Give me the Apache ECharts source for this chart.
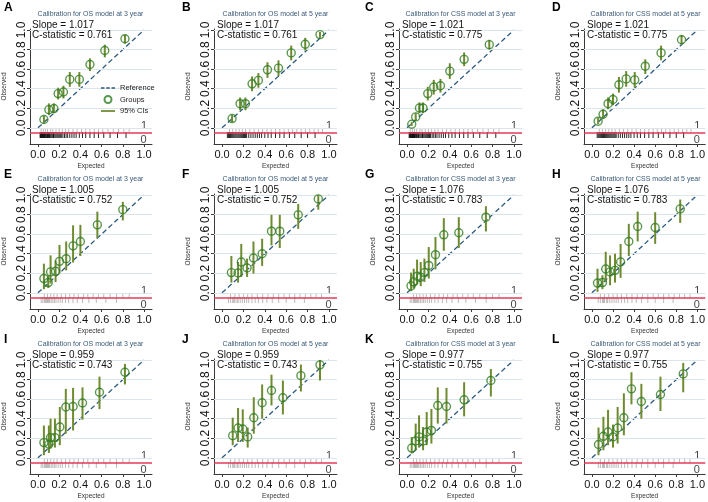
<!doctype html>
<html>
<head>
<meta charset="utf-8">
<title>Calibration plots</title>
<script src="https://cdn.jsdelivr.net/npm/echarts@6.0.0/dist/echarts.min.js"></script>
<style>
  html, body { margin: 0; padding: 0; background: #fff; }
  #main { width: 708px; height: 502px; }
</style>
</head>
<body>
<div id="main"></div>
<script>
// panel headings
var letters = ['A', 'B', 'C', 'D', 'E', 'F', 'G', 'H', 'I', 'J', 'K', 'L'];
var titles = [
  'Calibration for OS model at 3 year', 'Calibration for OS model at 5 year',
  'Calibration for CSS model at 3 year', 'Calibration for CSS model at 5 year',
  'Calibration for OS model at 3 year', 'Calibration for OS model at 5 year',
  'Calibration for CSS model at 3 year', 'Calibration for CSS model at 5 year',
  'Calibration for OS model at 3 year', 'Calibration for OS model at 5 year',
  'Calibration for CSS model at 3 year', 'Calibration for CSS model at 5 year'
];
var slopes = ['1.017', '1.017', '1.021', '1.021', '1.005', '1.005', '1.076', '1.076', '0.959', '0.959', '0.977', '0.977'];
var cstats = ['0.761', '0.761', '0.775', '0.775', '0.752', '0.752', '0.783', '0.783', '0.743', '0.743', '0.755', '0.755'];
var axisTicks = [0, 0.2, 0.4, 0.6, 0.8, 1.0];
var refLine = [0, 1];
var rugLabels = ['1', '0'];

// groups: [expected, observed, ci low, ci high]
var groupsA = [[0.056,0.085,0.05,0.12],[0.103,0.186,0.13,0.25],[0.15,0.197,0.15,0.25],[0.19,0.35,0.29,0.41],[0.24,0.366,0.30,0.43],[0.30,0.495,0.42,0.57],[0.39,0.495,0.42,0.57],[0.49,0.647,0.58,0.71],[0.63,0.79,0.72,0.85],[0.82,0.91,0.86,0.95]];
var groupsB = [[0.094,0.095,0.06,0.13],[0.169,0.247,0.18,0.31],[0.219,0.247,0.18,0.31],[0.281,0.45,0.375,0.525],[0.34,0.485,0.41,0.56],[0.425,0.593,0.51,0.67],[0.528,0.61,0.53,0.69],[0.647,0.766,0.69,0.84],[0.778,0.854,0.79,0.92],[0.916,0.953,0.92,0.98]];
var groupsC = [[0.044,0.037,0.02,0.06],[0.081,0.112,0.08,0.15],[0.116,0.203,0.15,0.26],[0.15,0.203,0.15,0.26],[0.194,0.35,0.28,0.42],[0.25,0.417,0.34,0.49],[0.3125,0.43,0.36,0.50],[0.40,0.58,0.50,0.66],[0.534,0.70,0.63,0.77],[0.769,0.85,0.80,0.90]];
var groupsD = [[0.059,0.068,0.04,0.10],[0.106,0.139,0.09,0.19],[0.153,0.247,0.19,0.31],[0.20,0.29,0.23,0.35],[0.256,0.44,0.36,0.52],[0.325,0.50,0.42,0.58],[0.406,0.49,0.41,0.57],[0.506,0.63,0.55,0.70],[0.656,0.766,0.69,0.84],[0.85,0.90,0.85,0.95]];
var groupsE = [[0.056,0.146,0.037,0.298],[0.097,0.105,0.05,0.18],[0.119,0.214,0.095,0.383],[0.166,0.22,0.11,0.33],[0.203,0.322,0.197,0.49],[0.266,0.349,0.23,0.525],[0.331,0.48,0.31,0.69],[0.40,0.525,0.376,0.695],[0.56,0.695,0.56,0.83],[0.80,0.85,0.74,0.93]];
var groupsF = [[0.0875,0.207,0.105,0.376],[0.15,0.203,0.105,0.315],[0.18,0.315,0.163,0.50],[0.234,0.254,0.163,0.35],[0.294,0.356,0.197,0.525],[0.375,0.40,0.275,0.553],[0.4625,0.63,0.485,0.797],[0.54,0.63,0.458,0.797],[0.7125,0.797,0.654,0.908],[0.90,0.96,0.85,1.0]];
var groupsG = [[0.0375,0.071,0.017,0.207],[0.0625,0.112,0.044,0.247],[0.094,0.17,0.085,0.34],[0.128,0.16,0.068,0.315],[0.1625,0.207,0.112,0.35],[0.203,0.28,0.146,0.468],[0.266,0.39,0.24,0.57],[0.344,0.593,0.43,0.763],[0.484,0.614,0.458,0.773],[0.7375,0.773,0.627,0.885]];
var groupsH = [[0.053,0.10,0.01,0.247],[0.10,0.105,0.037,0.18],[0.131,0.244,0.112,0.42],[0.172,0.214,0.078,0.383],[0.219,0.23,0.105,0.40],[0.272,0.315,0.153,0.50],[0.35,0.525,0.376,0.705],[0.434,0.678,0.525,0.83],[0.60,0.668,0.50,0.824],[0.8375,0.858,0.715,0.953]];
var groupsI = [[0.056,0.156,0.027,0.33],[0.103,0.139,0.05,0.33],[0.119,0.207,0.095,0.40],[0.16,0.207,0.105,0.40],[0.206,0.315,0.129,0.52],[0.2625,0.52,0.247,0.705],[0.331,0.525,0.28,0.715],[0.42,0.56,0.39,0.72],[0.58,0.67,0.498,0.83],[0.82,0.875,0.75,0.96]];
var groupsJ = [[0.10,0.227,0.129,0.41],[0.15,0.305,0.163,0.51],[0.194,0.295,0.163,0.495],[0.24,0.214,0.105,0.31],[0.297,0.41,0.247,0.62],[0.375,0.563,0.40,0.75],[0.4625,0.688,0.536,0.85],[0.569,0.614,0.444,0.79],[0.7375,0.84,0.678,0.953],[0.916,0.95,0.79,1.0]];
var groupsK = [[0.044,0.10,0.044,0.213],[0.081,0.173,0.078,0.35],[0.1125,0.214,0.105,0.434],[0.15,0.173,0.078,0.315],[0.184,0.264,0.129,0.468],[0.228,0.28,0.146,0.50],[0.2875,0.535,0.35,0.72],[0.369,0.525,0.35,0.715],[0.534,0.593,0.424,0.773],[0.784,0.79,0.627,0.908]];
var groupsL = [[0.0625,0.136,0.027,0.31],[0.109,0.22,0.078,0.42],[0.153,0.264,0.129,0.49],[0.20,0.214,0.105,0.34],[0.244,0.305,0.146,0.52],[0.303,0.41,0.23,0.66],[0.375,0.705,0.546,0.875],[0.469,0.576,0.40,0.756],[0.65,0.647,0.478,0.83],[0.866,0.858,0.67,0.97]];

// rug of predicted risks, outcome 0 (below line) and 1 (above line)
var rugTrain3y0 = [0.02,0.025,0.03,0.035,0.04,0.045,0.05,0.055,0.06,0.065,0.07,0.078,0.085,0.09,0.1,0.105,0.11,0.12,0.13,0.14,0.145,0.15,0.16,0.17,0.18,0.19,0.2,0.21,0.22,0.235,0.25,0.265,0.28,0.3,0.32,0.34,0.36,0.39,0.42,0.45,0.49,0.53,0.57,0.62,0.68,0.75,0.83];
var rugTrain3y1 = [0.03,0.05,0.07,0.09,0.12,0.14,0.17,0.2,0.23,0.26,0.29,0.33,0.37,0.41,0.45,0.49,0.53,0.57,0.61,0.66,0.71,0.76,0.81,0.86];
var rugTrain5y0 = [0.05,0.06,0.07,0.08,0.09,0.1,0.11,0.12,0.13,0.14,0.15,0.16,0.17,0.18,0.19,0.2,0.21,0.22,0.23,0.25,0.27,0.29,0.31,0.33,0.35,0.37,0.4,0.43,0.46,0.5,0.54,0.58,0.63,0.68,0.74,0.8,0.87];
var rugTrain5y1 = [0.07,0.1,0.13,0.16,0.19,0.22,0.26,0.3,0.34,0.38,0.42,0.46,0.5,0.54,0.58,0.62,0.66,0.7,0.74,0.78,0.82,0.86,0.9,0.94];
var rugValid3y0 = [0.03,0.045,0.06,0.07,0.08,0.09,0.1,0.11,0.125,0.14,0.155,0.17,0.19,0.21,0.23,0.26,0.29,0.33,0.37,0.42,0.48,0.55,0.64,0.74];
var rugValid3y1 = [0.06,0.09,0.12,0.15,0.18,0.22,0.26,0.3,0.34,0.38,0.43,0.47,0.52,0.57,0.62,0.68,0.74,0.8,0.86];
var rugValid5y0 = [0.06,0.08,0.1,0.11,0.12,0.14,0.15,0.17,0.19,0.21,0.23,0.25,0.28,0.31,0.34,0.38,0.42,0.47,0.53,0.6,0.68,0.77];
var rugValid5y1 = [0.08,0.12,0.16,0.2,0.24,0.28,0.33,0.38,0.43,0.48,0.53,0.58,0.63,0.68,0.73,0.78,0.83,0.88,0.93];

var allGroups = [groupsA, groupsB, groupsC, groupsD, groupsE, groupsF, groupsG, groupsH, groupsI, groupsJ, groupsK, groupsL];

var font = 'Liberation Sans, Arial, sans-serif';
var greenPt = '#2f7d22';
var greenCi = '#6f8b30';
var refBlue = '#2d5a82';

var chart = echarts.init(document.getElementById('main'));
var grids = [], xAxes = [], yAxes = [], series = [], titleList = [];
var letterLeft = [4, 182, 365, 552];

for (var i = 0; i < 12; i++) {
  var c = i % 4, r = Math.floor(i / 4);
  var gl = 29 + 185 * c, gt = 29 + 165 * r;
  var train = r === 0, fiveYear = c % 2 === 1;
  var rug0 = train ? (fiveYear ? rugTrain5y0 : rugTrain3y0) : (fiveYear ? rugValid5y0 : rugValid3y0);
  var rug1 = train ? (fiveYear ? rugTrain5y1 : rugTrain3y1) : (fiveYear ? rugValid5y1 : rugValid3y1);

  grids.push({ left: gl, top: gt, width: 123, height: 115 });

  xAxes.push({
    type: 'value', gridIndex: i, min: -0.075, max: 1.075,
    name: 'Expected', nameLocation: 'middle', nameGap: 19,
    nameTextStyle: { fontSize: 6.5, color: '#333', fontFamily: font },
    axisLine: { onZero: false, lineStyle: { color: '#3a3a3a', width: 1 } },
    axisTick: { customValues: axisTicks, length: 3, lineStyle: { color: '#3a3a3a' } },
    axisLabel: { customValues: axisTicks, formatter: function (v) { return v.toFixed(1); },
      fontSize: 11, color: '#111', margin: 5, fontFamily: font },
    splitLine: { show: false }
  });
  yAxes.push({
    type: 'value', gridIndex: i, min: -0.165, max: 1.01,
    name: 'Observed', nameLocation: 'middle', nameGap: 22,
    nameTextStyle: { fontSize: 6.5, color: '#333', fontFamily: font },
    axisLine: { onZero: false, lineStyle: { color: '#3a3a3a', width: 1 } },
    axisTick: { customValues: axisTicks, length: 3, lineStyle: { color: '#3a3a3a' } },
    axisLabel: { customValues: axisTicks, formatter: function (v) { return v.toFixed(1); },
      rotate: 90, fontSize: 12, color: '#111', margin: 2, fontFamily: font },
    splitLine: { show: false }
  });

  // horizontal grid lines
  series.push({
    type: 'line', xAxisIndex: i, yAxisIndex: i, data: [], silent: true, z: 1,
    markLine: { symbol: ['none', 'none'], silent: true, animation: false, label: { show: false },
      lineStyle: { color: '#dbe6ec', width: 1, type: 'solid' },
      data: axisTicks.map(function (v) { return { yAxis: v }; }) }
  });
  // rug
  series.push({
    type: 'scatter', xAxisIndex: i, yAxisIndex: i, silent: true, z: 2,
    symbol: 'rect', symbolSize: [1, 6],
    itemStyle: { color: train ? '#000' : '#666', opacity: train ? 0.85 : 0.45 },
    data: rug0.map(function (v) { return [v, -0.074]; })
  });
  series.push({
    type: 'scatter', xAxisIndex: i, yAxisIndex: i, silent: true, z: 2,
    symbol: 'rect', symbolSize: [1, 4],
    itemStyle: { color: '#666', opacity: 0.45 },
    data: rug1.map(function (v) { return [v, -0.031]; })
  });
  series.push({
    type: 'line', xAxisIndex: i, yAxisIndex: i, data: [], silent: true, z: 3,
    markLine: { symbol: ['none', 'none'], silent: true, animation: false, label: { show: false },
      lineStyle: { color: '#e23b5a', width: 1.5, type: 'solid' },
      data: [{ yAxis: -0.05 }] }
  });
  series.push({
    type: 'scatter', xAxisIndex: i, yAxisIndex: i, silent: true, z: 3,
    symbolSize: 0,
    label: { show: true, position: 'inside', fontSize: 11, color: '#111', fontFamily: font,
      formatter: function (p) { return p.data[2]; } },
    data: [[1.0, 0.015, rugLabels[0]], [0.995, -0.128, rugLabels[1]]]
  });

  // reference diagonal
  series.push({
    name: 'Reference', type: 'line', xAxisIndex: i, yAxisIndex: i, z: 4,
    symbol: 'none', silent: true,
    itemStyle: { color: refBlue },
    lineStyle: { color: refBlue, width: 1.3, type: [5, 3] },
    data: refLine.map(function (v) { return [v, v]; })
  });
  // 95% CIs
  series.push({
    name: '95% CIs', type: 'custom', xAxisIndex: i, yAxisIndex: i, z: 5, silent: true,
    itemStyle: { color: greenCi },
    encode: { x: 0, y: [2, 3] },
    renderItem: function (params, api) {
      var a = api.coord([api.value(0), api.value(2)]);
      var b = api.coord([api.value(0), api.value(3)]);
      return { type: 'line', shape: { x1: a[0], y1: a[1], x2: b[0], y2: b[1] },
        style: { stroke: greenCi, lineWidth: 2 } };
    },
    data: allGroups[i]
  });
  // groups
  series.push({
    name: 'Groups', type: 'scatter', xAxisIndex: i, yAxisIndex: i, z: 6, silent: true,
    symbol: 'circle', symbolSize: 8,
    itemStyle: { color: 'rgba(255,255,255,0)', borderColor: greenPt, borderWidth: 1.4 },
    data: allGroups[i].map(function (g) { return [g[0], g[1]]; })
  });

  titleList.push({ text: letters[i], left: letterLeft[c], top: 2 + 165 * r + (r > 0 ? 2 : 0), padding: 0,
    textStyle: { fontSize: 12, fontWeight: 'bold', color: '#000', fontFamily: font } });
  titleList.push({ text: titles[i], left: gl + 61.5, top: gt - 18, textAlign: 'center', padding: 0,
    textStyle: { fontSize: 7, fontWeight: 'normal', color: '#3b5a78', fontFamily: font } });
  titleList.push({ text: 'Slope = ' + slopes[i] + '\nC-statistic = ' + cstats[i], left: gl + 3, top: gt - 9, padding: 0,
    textStyle: { fontSize: 10, fontWeight: 'normal', color: '#111', lineHeight: 10, fontFamily: font } });
}

chart.setOption({
  animation: false,
  backgroundColor: '#fff',
  title: titleList,
  grid: grids,
  xAxis: xAxes,
  yAxis: yAxes,
  legend: {
    left: 101, top: 84, orient: 'vertical', itemWidth: 14, itemHeight: 7, itemGap: 3,
    selectedMode: false, padding: 0, z: 20,
    textStyle: { fontSize: 7.5, color: '#222', fontFamily: font },
    data: [
      { name: 'Reference', icon: 'path://M0,0H4V1.5H0Z M6,0H10V1.5H6Z M12,0H16V1.5H12Z' },
      { name: 'Groups' },
      { name: '95% CIs', icon: 'path://M0,0H16V2H0Z' }
    ]
  },
  series: series
});
</script>
</body>
</html>
